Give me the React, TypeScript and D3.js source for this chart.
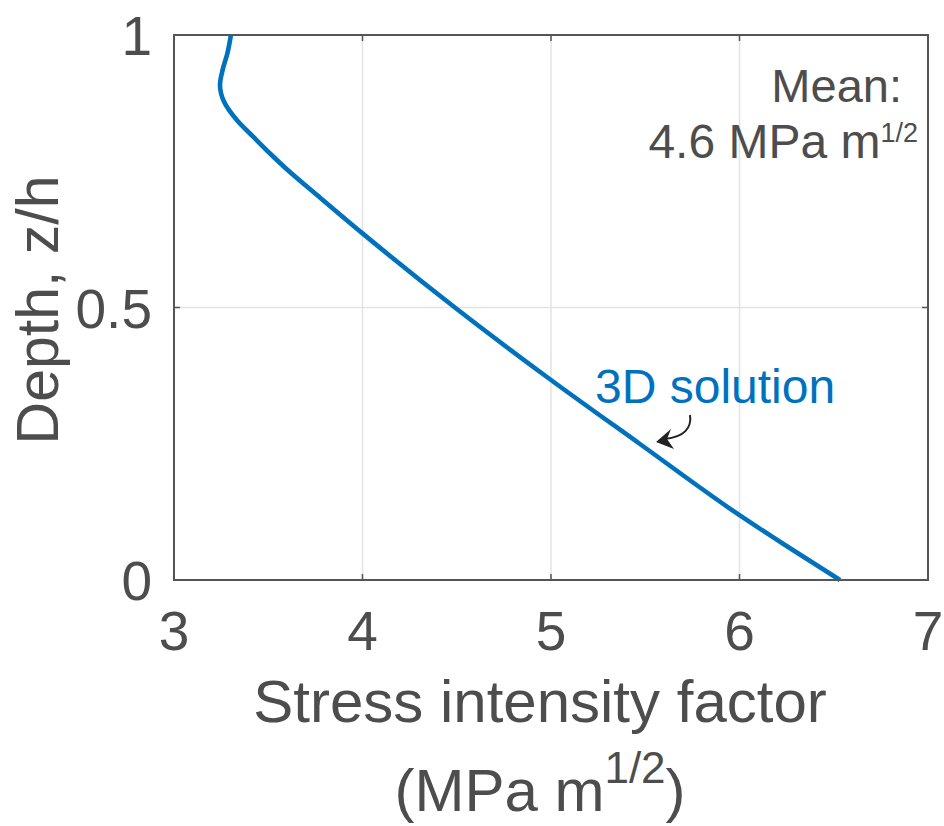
import React from "react";
import * as d3 from "d3";

const sifValues = [3.302, 3.283, 3.258, 3.244, 3.265, 3.333, 3.421, 3.508, 3.594, 3.77, 4.0, 4.49, 5.0, 5.47, 6.0, 6.26, 6.533];
const depthValues = [1.0, 0.966, 0.936, 0.908, 0.878, 0.844, 0.813, 0.783, 0.755, 0.703, 0.636, 0.5, 0.367, 0.25, 0.119, 0.06, 0.0];
const xTicks = [3, 4, 5, 6, 7];
const yTicks = [0, 0.5, 1];
const yTickLabels = ["0", "0.5", "1"];

const W = 944, H = 826;
const left = 174, right = 928, top = 35, bottom = 580;
const textColor = "#4d4d4d";
const axisColor = "#555555";
const lineColor = "#0072BD";
const font = "'Liberation Sans', Arial, Helvetica, sans-serif";

export default function App() {
  const x = d3.scaleLinear().domain([3, 7]).range([left, right]);
  const y = d3.scaleLinear().domain([0, 1]).range([bottom, top]);
  const pts = sifValues.map((v, i) => [v, depthValues[i]] as [number, number]);
  const line = d3.line<[number, number]>().x(d => x(d[0])).y(d => y(d[1])).curve(d3.curveMonotoneY);
  const path = line(pts) || "";
  const tickLen = 6;
  return (
    <svg width={W} height={H} style={{ position: "absolute", left: 0, top: 0 }} fontFamily={font}>
      <rect x={0} y={0} width={W} height={H} fill="#fff" />
      {xTicks.slice(1, -1).map(t => (
        <line key={"gx" + t} x1={x(t)} x2={x(t)} y1={top} y2={bottom} stroke="#e3e3e3" strokeWidth={1.5} />
      ))}
      {yTicks.slice(1, -1).map(t => (
        <line key={"gy" + t} x1={left} x2={right} y1={y(t)} y2={y(t)} stroke="#e3e3e3" strokeWidth={1.5} />
      ))}
      {xTicks.map(t => (
        <g key={"tx" + t}>
          <line x1={x(t)} x2={x(t)} y1={bottom} y2={bottom - tickLen} stroke={axisColor} strokeWidth={1.5} />
          <line x1={x(t)} x2={x(t)} y1={top} y2={top + tickLen} stroke={axisColor} strokeWidth={1.5} />
          <text x={x(t)} y={650} textAnchor="middle" fontSize={55} fill={textColor}>{t}</text>
        </g>
      ))}
      {yTicks.map((t, i) => (
        <g key={"ty" + t}>
          <line x1={left} x2={left + tickLen} y1={y(t)} y2={y(t)} stroke={axisColor} strokeWidth={1.5} />
          <line x1={right} x2={right - tickLen} y1={y(t)} y2={y(t)} stroke={axisColor} strokeWidth={1.5} />
          <text x={152} y={y(t) + 20} textAnchor="end" fontSize={55} fill={textColor}>{yTickLabels[i]}</text>
        </g>
      ))}
      <path d={path} fill="none" stroke={lineColor} strokeWidth={4.6} strokeLinejoin="round" />
      <rect x={left} y={top} width={right - left} height={bottom - top} fill="none" stroke={axisColor} strokeWidth={2} />
      <text x={(left + right) / 2 - 11} y={722} textAnchor="middle" fontSize={60} fill={textColor}>Stress intensity factor</text>
      <text x={(left + right) / 2 - 11} y={811} textAnchor="middle" fontSize={60} fill={textColor}>
        (MPa m<tspan fontSize={44} dy={-28}>1/2</tspan><tspan dy={28}>)</tspan>
      </text>
      <text transform={`translate(58,${310}) rotate(-90)`} textAnchor="middle" fontSize={59} fill={textColor}>Depth, z/h</text>
      <text x={902} y={102} textAnchor="end" fontSize={47} fill={textColor}>Mean:</text>
      <text x={918} y={158} textAnchor="end" fontSize={48} fill={textColor}>
        4.6 MPa m<tspan fontSize={27} dy={-16}>1/2</tspan>
      </text>
      <text x={595} y={403} fontSize={48} fill={lineColor}>3D solution</text>
      <path d="M690,415 C692,428 684,437 665,439" fill="none" stroke="#222" strokeWidth={2} />
      <path d="M656,442 L671,429 L667,439 L674,449 Z" fill="#222" />
    </svg>
  );
}
